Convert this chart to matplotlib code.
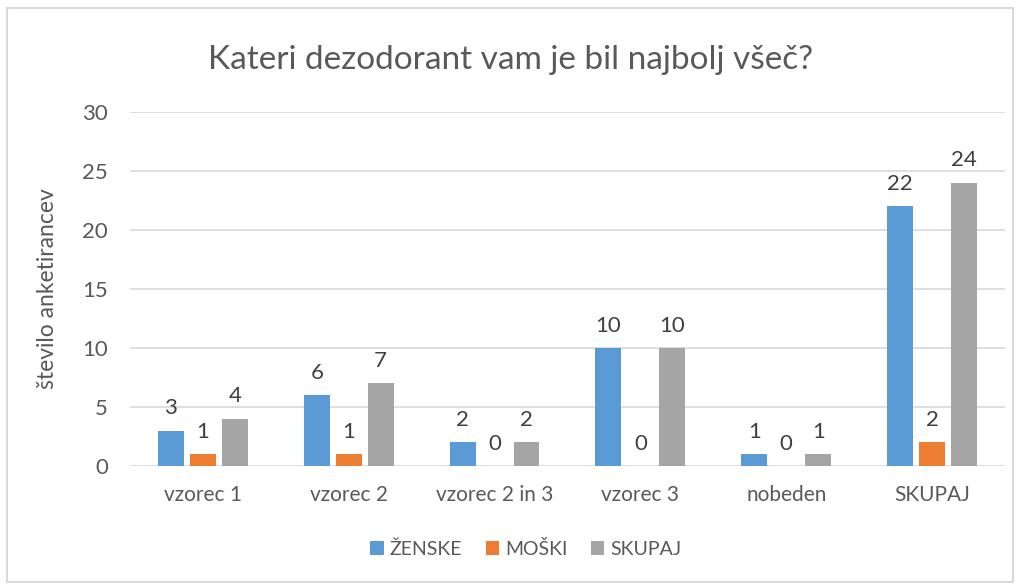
import matplotlib
matplotlib.use("Agg")
import matplotlib.pyplot as plt
import numpy as np
from matplotlib.patches import Rectangle

categories = ["vzorec 1", "vzorec 2", "vzorec 2 in 3", "vzorec 3", "nobeden", "SKUPAJ"]
zenske = [3, 6, 2, 10, 1, 22]
moski = [1, 1, 0, 0, 0, 2]
skupaj = [4, 7, 2, 10, 1, 24]
series_names = ["ŽENSKE", "MOŠKI", "SKUPAJ"]
colors = ["#5B9BD5", "#ED7D31", "#A5A5A5"]

plt.rcParams['font.family'] = ['Lato', 'DejaVu Sans']

fig = plt.figure(figsize=(10.21, 5.87), dpi=100)
ax = fig.add_axes([0.1273, 0.2061, 0.8570, 0.6031])

fig.patches.append(Rectangle((7/1021, 5/587), 1006/1021, 574/587, transform=fig.transFigure,
                             fill=False, edgecolor="#D9D9D9", linewidth=1.5))

x = np.arange(len(categories))
w = 0.178
off = 0.219
for i, (vals, name, c) in enumerate(zip([zenske, moski, skupaj], series_names, colors)):
    bars = ax.bar(x + (i - 1) * off, vals, width=w, color=c, label=name, zorder=3)
    for b, v in zip(bars, vals):
        ax.annotate(str(v), (b.get_x() + b.get_width() / 2, v), xytext=(0, 9),
                    textcoords="offset points", ha="center", va="bottom",
                    fontsize=16, color="#404040")

ax.set_xlim(-0.5, len(categories) - 0.5)
ax.set_ylim(0, 30)
ax.set_yticks(range(0, 31, 5))
ax.yaxis.grid(True, color="#D9D9D9", linewidth=1.2, zorder=0)
ax.set_axisbelow(True)
for s in ax.spines.values():
    s.set_visible(False)
ax.tick_params(axis="both", length=0, colors="#595959")
ax.tick_params(axis="y", pad=16, labelsize=16)
ax.tick_params(axis="x", pad=14, labelsize=15)
ax.set_xticks(x)
ax.set_xticklabels(categories)
ax.set_ylabel("število anketirancev", fontsize=16.5, color="#595959")
ax.yaxis.set_label_coords((58 - 130) / 875, (466 - 289) / 354)

fig.text(0.5, 1 - 60 / 587, "Kateri dezodorant vam je bil najbolj všeč?", ha="center", va="center",
         fontsize=24, color="#595959")

leg = fig.legend(loc="center", bbox_to_anchor=(0.515, 1 - 549 / 587), ncol=3, frameon=False,
                 fontsize=14, handlelength=0.7, handleheight=0.7, handletextpad=0.3,
                 columnspacing=1.2)
for t in leg.get_texts():
    t.set_color("#595959")

fig.savefig("out.png", dpi=100)
